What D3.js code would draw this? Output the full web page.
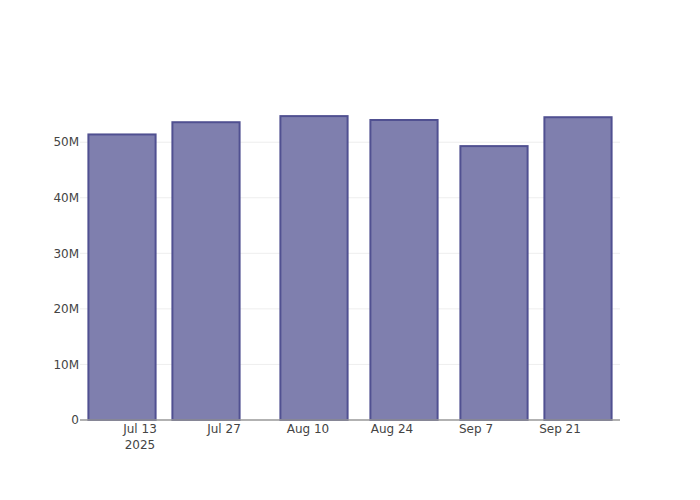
<!DOCTYPE html>
<html>
<head>
<meta charset="utf-8">
<script src="https://cdn.jsdelivr.net/npm/d3@7"></script>
<style>
  body { margin: 0; background: #fff; }
  svg { font-family: "DejaVu Sans", Verdana, sans-serif; }
</style>
</head>
<body>
<svg id="chart" width="700" height="500"></svg>
<script>
const dates = ["2025-07-10", "2025-07-24", "2025-08-11", "2025-08-26", "2025-09-10", "2025-09-24"];
const values = [51.4e6, 53.6e6, 54.7e6, 54.0e6, 49.3e6, 54.5e6];
const xTickDates = ["2025-07-13", "2025-07-27", "2025-08-10", "2025-08-24", "2025-09-07", "2025-09-21"];
const xTickLabels = ["Jul 13", "Jul 27", "Aug 10", "Aug 24", "Sep 7", "Sep 21"];
const yTicks = [0, 10e6, 20e6, 30e6, 40e6, 50e6];
const yTickLabels = ["0", "10M", "20M", "30M", "40M", "50M"];

const parse = d3.utcParse("%Y-%m-%d");
const svg = d3.select("#chart");
const margin = {l: 80, r: 80, t: 100, b: 80};
const W = 700, H = 500;

const x = d3.scaleUtc()
  .domain([parse("2025-07-03"), parse("2025-10-01")])
  .range([margin.l, W - margin.r]);
const y = d3.scaleLinear()
  .domain([0, 57.6e6])
  .range([H - margin.b, margin.t]);

const dayPx = x(parse("2025-07-14")) - x(parse("2025-07-13"));
const barW = 14 * 0.8 * dayPx;

// gridlines
svg.append("g").selectAll("line")
  .data(yTicks.slice(1))
  .join("line")
  .attr("x1", margin.l).attr("x2", W - margin.r)
  .attr("y1", d => y(d)).attr("y2", d => y(d))
  .attr("stroke", "#eeeeee").attr("stroke-width", 1);

// bars
svg.append("g").selectAll("rect")
  .data(dates.map((d, i) => ({date: parse(d), v: values[i]})))
  .join("rect")
  .attr("x", d => x(d.date) - barW / 2)
  .attr("width", barW)
  .attr("y", d => y(d.v))
  .attr("height", d => y(0) - y(d.v))
  .attr("fill", "rgb(127,127,174)")
  .attr("stroke", "rgb(80,80,145)")
  .attr("stroke-width", 2);

// x axis line
svg.append("line")
  .attr("x1", margin.l).attr("x2", W - margin.r)
  .attr("y1", y(0)).attr("y2", y(0))
  .attr("stroke", "#999").attr("stroke-width", 1.5);

// y tick labels
svg.append("g").selectAll("text")
  .data(yTicks)
  .join("text")
  .attr("x", margin.l - 1)
  .attr("y", d => y(d))
  .attr("dy", "0.35em")
  .attr("text-anchor", "end")
  .attr("font-size", 12)
  .attr("fill", "#444")
  .text((d, i) => yTickLabels[i]);

// x tick labels
const xg = svg.append("g");
xg.selectAll("text.tick")
  .data(xTickDates)
  .join("text")
  .attr("class", "tick")
  .attr("x", d => x(parse(d)))
  .attr("y", y(0) + 13)
  .attr("text-anchor", "middle")
  .attr("font-size", 12)
  .attr("fill", "#444")
  .text((d, i) => xTickLabels[i]);
xg.append("text")
  .attr("x", x(parse(xTickDates[0])))
  .attr("y", y(0) + 29)
  .attr("text-anchor", "middle")
  .attr("font-size", 12)
  .attr("fill", "#444")
  .text("2025");
</script>
</body>
</html>
